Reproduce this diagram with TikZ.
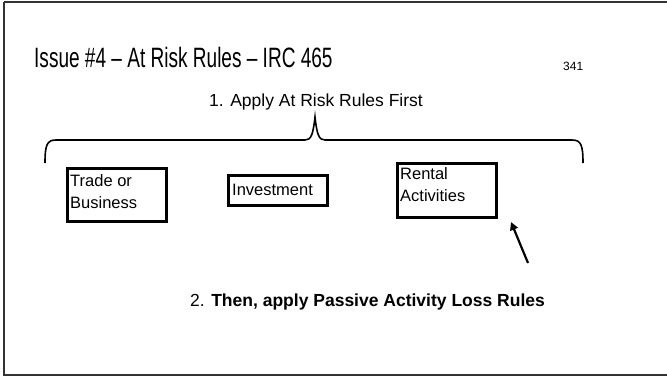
\documentclass[tikz,border=0pt]{standalone}
\usepackage{fontspec}
\setmainfont{Liberation Sans}
\usetikzlibrary{arrows.meta}
\begin{document}
\begin{tikzpicture}[x=1pt,y=-1pt,
  lbl/.style={inner sep=0pt},
  boxfont/.style={font=\fontsize{16.5}{22}\selectfont},
  boxline/.style={line width=3pt}]
\useasboundingbox (0,0) rectangle (667,378);
\fill[white] (0,0) rectangle (667,378);
% frame
\draw[line width=2pt,black!80] (4,2) -- (670,2);
\draw[line width=2pt,black!80] (4,2) -- (4,375) -- (670,375);
% title
\node[lbl,anchor=base west,font=\fontsize{28}{33}\selectfont] (title) at (34,67) {\scalebox{0.68}[1]{Issue \#4 – At Risk Rules – IRC 465}};
\node[lbl,anchor=base west,font=\fontsize{12}{14}\selectfont] (pg) at (563,70) {341};
\node[lbl,anchor=base,font=\fontsize{17.5}{21}\selectfont] (apply) at (316,106) {1. Apply At Risk Rules First};
% brace
\coordinate (bl) at (45,163);
\coordinate (br) at (583,163);
\coordinate (bt) at (315,117);
\draw[line width=1.6pt] (bl) .. controls (45,145) and (47,140) .. (56,140) -- (305,140)
  .. controls (311,140) and (313,135) .. (bt)
  .. controls (317,135) and (319,140) .. (325,140) -- (572,140)
  .. controls (581,140) and (583,145) .. (br);
% boxes
\draw[boxline] (67,168) rectangle (166,221);
\node[lbl,anchor=north west,align=left,boxfont] (tb) at (70,174) {Trade or\\Business};
\draw[boxline] (228,175) rectangle (327,205);
\node[lbl,anchor=west,boxfont] (inv) at (232,190) {Investment};
\draw[boxline] (397,163) rectangle (496,217);
\node[lbl,anchor=north west,align=left,boxfont] (ra) at (400,167) {Rental\\Activities};
% arrow
\coordinate (atail) at (528,263);
\coordinate (ahead) at (511,222);
\draw[line width=2.2pt,-{Triangle[length=8pt,width=8pt]}] (atail) -- (ahead);
% bottom text
\node[lbl,anchor=base west,font=\fontsize{17.5}{21}\selectfont] (then) at (190,306) {2. \textbf{Then, apply Passive Activity Loss Rules}};
\end{tikzpicture}
\end{document}
